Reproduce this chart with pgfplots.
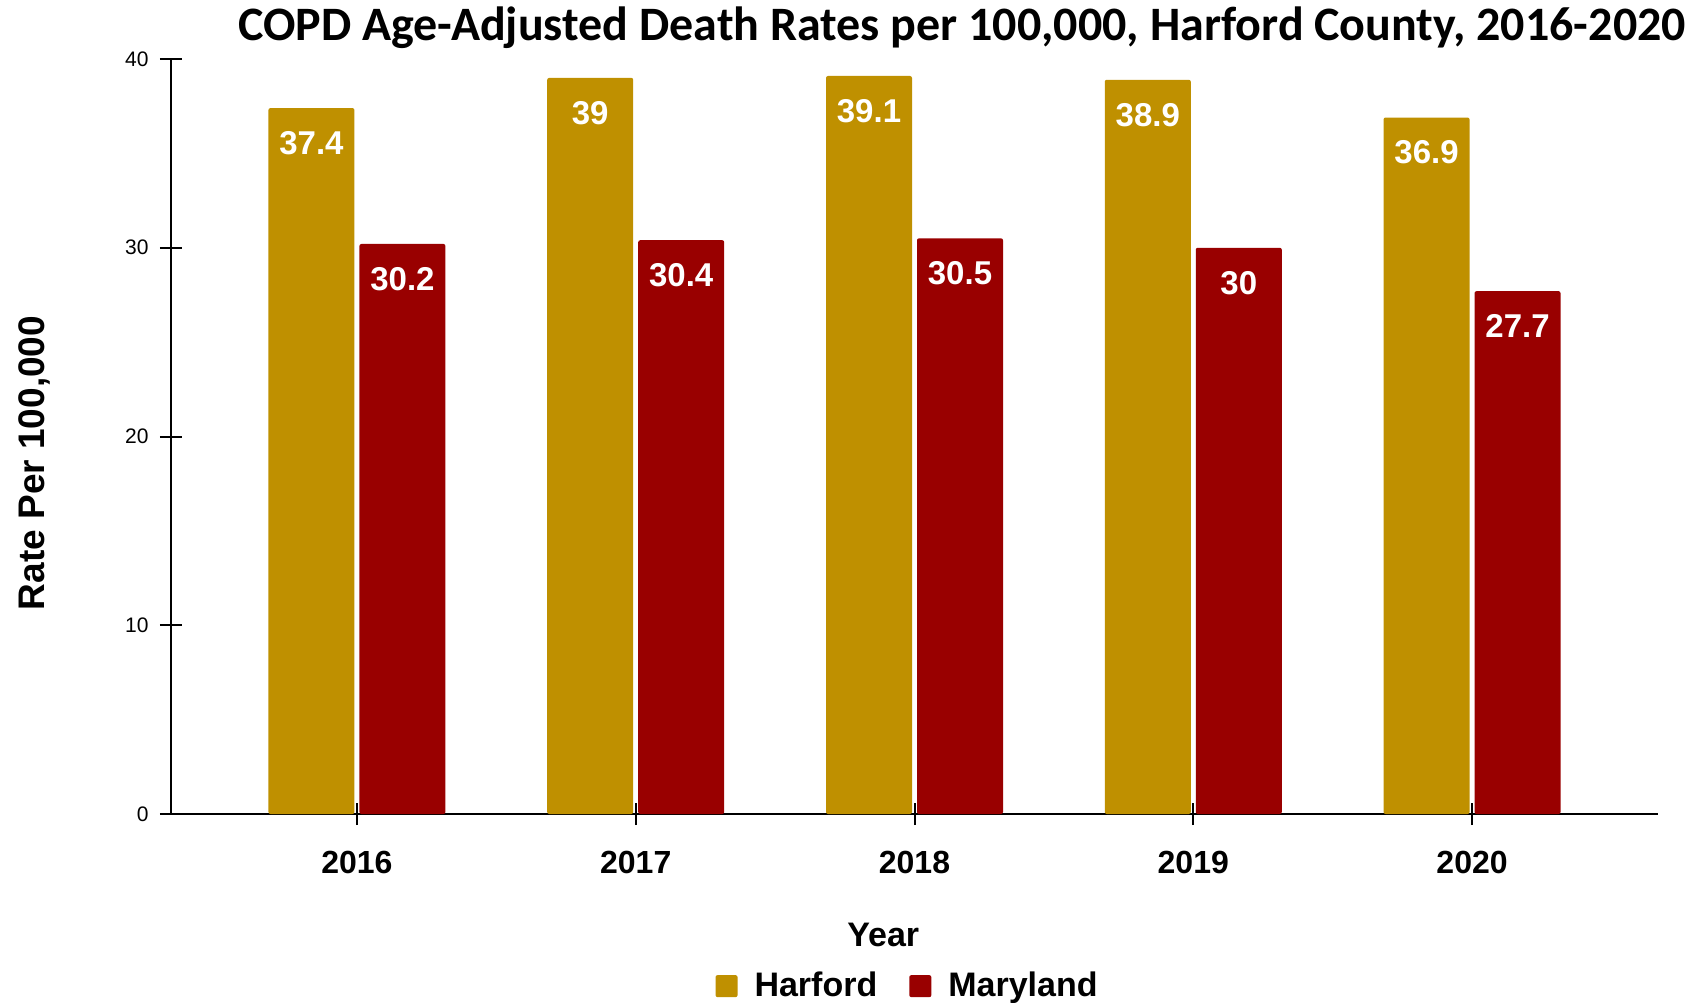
\documentclass[border=0pt]{standalone}
\usepackage{fontspec}
\setmainfont{Liberation Sans}
\newfontfamily\titlefont{Carlito}
\usepackage{pgfplots}
\pgfplotsset{compat=1.18}
\definecolor{harford}{RGB}{191,144,0}
\definecolor{maryland}{RGB}{153,0,0}

\begin{document}
\begin{tikzpicture}
\useasboundingbox (-85.5bp,-94.5bp) rectangle (768.5bp,407bp);
\begin{axis}[
    at={(0,0)}, anchor=south west,
    scale only axis,
    width=743.5bp, height=377.5bp,
    ybar=2.5bp, bar width=43bp,
    xmin=-0.667, xmax=4.667,
    ymin=0, ymax=40,
    xtick={0,1,2,3,4},
    xticklabels={2016,2017,2018,2019,2020},
    ytick={0,10,20,30,40},
    axis lines=left,
    axis line style={-, line width=1bp},
    tick style={black, line width=1bp},
    tick align=center,
    major tick length=11bp,
    /pgf/number format/assume math mode=true,
    xticklabel style={anchor=center, yshift=-18.5bp,
        font=\bfseries\fontsize{16bp}{16bp}\selectfont},
    yticklabel style={anchor=east, xshift=-2.2bp,
        font=\fontsize{10.5bp}{10.5bp}\selectfont},
    title={COPD Age-Adjusted Death Rates per 100,000, Harford County, 2016-2020},
    title style={at={(axis description cs:0.532,1.025)}, anchor=center,
        font=\titlefont\bfseries\fontsize{24bp}{24bp}\selectfont},
    xlabel={Year},
    xlabel style={at={(axis description cs:0.479,-0.160)}, anchor=center,
        font=\bfseries\fontsize{17bp}{17bp}\selectfont},
    ylabel={Rate Per 100,000},
    ylabel style={at={(axis description cs:-0.0915,0.465)}, anchor=center,
        font=\bfseries\fontsize{18.5bp}{18.5bp}\selectfont},
    nodes near coords,
    every node near coord/.append style={white, anchor=center, yshift=-17.5bp,
        font=\bfseries\fontsize{16.5bp}{16.5bp}\selectfont},
    legend style={at={(axis description cs:0.496,-0.228)}, anchor=center,
        draw=none, legend columns=2,
        font=\bfseries\fontsize{17bp}{17bp}\selectfont,
        /tikz/every odd column/.append style={column sep=6.5bp},
        /tikz/every even column/.append style={column sep=14bp}},
    legend image code/.code={\fill[#1] (0bp,-5.5bp) rectangle (11bp,5.5bp);},
]

% Harford
\addplot[fill=harford, draw=none, rounded corners=1bp]
    coordinates {(0,37.4) (1,39) (2,39.1) (3,38.9) (4,36.9)};

% Maryland
\addplot[fill=maryland, draw=none, rounded corners=1bp]
    coordinates {(0,30.2) (1,30.4) (2,30.5) (3,30) (4,27.7)};

\legend{Harford,Maryland}
\end{axis}
\end{tikzpicture}
\end{document}
